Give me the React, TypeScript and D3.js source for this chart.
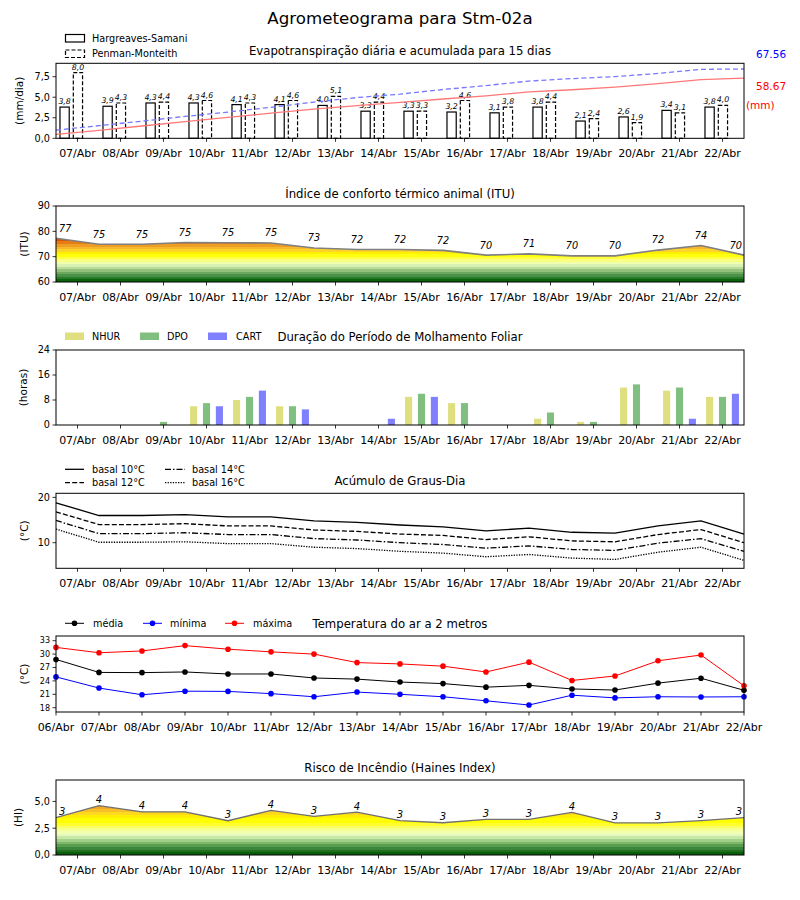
import React from "react";
import * as d3 from "d3";

// ---------- DATA ----------
const daysAxis = ["07/Abr","08/Abr","09/Abr","10/Abr","11/Abr","12/Abr","13/Abr","14/Abr","15/Abr","16/Abr","17/Abr","18/Abr","19/Abr","20/Abr","21/Abr","22/Abr"];
const daysTemp = ["06/Abr","07/Abr","08/Abr","09/Abr","10/Abr","11/Abr","12/Abr","13/Abr","14/Abr","15/Abr","16/Abr","17/Abr","18/Abr","19/Abr","20/Abr","21/Abr","22/Abr"];

const etHS = [3.8,3.9,4.3,4.3,4.1,4.1,4.0,3.3,3.3,3.2,3.1,3.8,2.1,2.6,3.4,3.8];
const etPM = [8.0,4.3,4.4,4.6,4.3,4.6,5.1,4.4,3.3,4.6,3.8,4.4,2.4,1.9,3.1,4.0];
const etTotalHS = 58.67;
const etTotalPM = 67.56;

const itu = [77.3,74.9,74.9,75.6,75.5,75.4,73.4,72.8,72.8,72.5,70.6,71.1,70.3,70.3,72.6,74.4,70.6];
const ituLabels = [77,75,75,75,75,75,73,72,72,72,70,71,70,70,72,74,70];

const nhur = [0,0,0,6,8,6,0,0,9,7,0,2,1,12,11,9];
const dpo  = [0,0,1,7,9,6,0,0,10,7,0,4,1,13,12,9];
const cart = [0,0,0,6,11,5,0,2,9,0,0,0,0,0,2,10];

const gd10 = [18.8,16.0,16.0,16.2,15.7,15.7,14.8,14.5,13.9,13.5,12.6,13.2,12.3,12.1,13.7,14.8,11.9];
const gd12 = [16.8,14.0,14.0,14.2,13.7,13.7,12.8,12.5,11.9,11.6,10.7,11.3,10.4,10.2,11.8,12.9,10.0];
const gd14 = [14.9,12.0,12.0,12.2,11.8,11.8,10.9,10.6,10.0,9.6,8.8,9.3,8.5,8.3,9.9,10.9,8.1];
const gd16 = [13.0,10.1,10.1,10.2,9.8,9.8,9.0,8.7,8.1,7.7,6.9,7.4,6.6,6.3,7.9,9.0,6.1];

const tMax = [31.5,30.3,30.7,31.9,31.1,30.5,30.0,28.1,27.8,27.3,26.0,28.2,24.1,25.1,28.5,29.8,22.9];
const tMed = [28.8,25.9,25.85,26.0,25.55,25.55,24.65,24.4,23.75,23.4,22.6,23.0,22.2,21.95,23.5,24.6,21.9];
const tMin = [24.9,22.4,20.9,21.7,21.65,21.15,20.45,21.5,21.0,20.45,19.55,18.6,20.8,20.2,20.45,20.4,20.45];

const haines = [3.48,4.6,4.03,4.03,3.2,4.16,3.6,4.0,3.2,3.01,3.33,3.33,3.98,3.0,3.0,3.2,3.48];
const hainesLabels = [3,4,4,4,3,4,3,4,3,3,3,3,4,3,3,3,3];

const etTicks = [0, 2.5, 5, 7.5];
const ituTicks = [60, 70, 80, 90];
const wetTicks = [0, 8, 16, 24];
const gdTicks = [10, 20];
const tempTicks = [18, 21, 24, 27, 30, 33];
const hiTicks = [0, 2.5, 5];

const ituBands: [number, number, string][] = [
  [60,61,"#0b630b"],[61,62,"#277a27"],[62,63,"#4a914a"],[63,64,"#6ea85e"],[64,65,"#94c27c"],
  [65,66,"#b9dc9a"],[66,67,"#d9f2b2"],[67,68,"#eeffb0"],[68,69,"#faff80"],[69,70,"#ffff40"],
  [70,71,"#ffff10"],[71,72,"#fff000"],[72,73,"#ffd428"],[73,74,"#f7b830"],[74,75,"#ef9e24"],
  [75,76,"#e67d14"],[76,77,"#d95200"],[77,90,"#cc0000"],
];
const hiBands: [number, number, string][] = [
  [0,0.25,"#0a5e0a"],[0.25,0.5,"#1f701f"],[0.5,0.75,"#3a863a"],[0.75,1,"#5a9c50"],[1,1.25,"#7db868"],
  [1.25,1.5,"#a2d088"],[1.5,1.75,"#c8e8a8"],[1.75,2,"#e4f8c0"],[2,2.25,"#f0ffb0"],[2.25,2.5,"#f6ff90"],
  [2.5,2.75,"#faff60"],[2.75,3,"#ffff30"],[3,3.5,"#ffff00"],[3.5,3.75,"#fff000"],[3.75,4,"#ffd820"],
  [4,4.25,"#f8c028"],[4.25,4.5,"#f0a828"],[4.5,5,"#e89018"],[5,7,"#e07010"],
];

// ---------- LAYOUT ----------
const L = 56, R = 744;
const FONT = "DejaVu Sans, Liberation Sans, sans-serif";
const x = d3.scaleLinear().domain([0, 16]).range([L, R]);

const P1 = { top: 63.3, bottom: 138.3 };
const P2 = { top: 206, bottom: 282 };
const P3 = { top: 350, bottom: 425 };
const P4 = { top: 493.3, bottom: 568.3 };
const P5 = { top: 636, bottom: 712 };
const P6 = { top: 780, bottom: 855 };

const y1 = d3.scaleLinear().domain([0, 9.13]).range([P1.bottom, P1.top]);
const y1b = d3.scaleLinear().domain([0, 73.1]).range([P1.bottom, P1.top]);
const y2 = d3.scaleLinear().domain([60, 90]).range([P2.bottom, P2.top]);
const y3 = d3.scaleLinear().domain([0, 24]).range([P3.bottom, P3.top]);
const y4 = d3.scaleLinear().domain([4.35, 20.9]).range([P4.bottom, P4.top]);
const y5 = d3.scaleLinear().domain([17.04, 34.05]).range([P5.bottom, P5.top]);
const y6 = d3.scaleLinear().domain([0, 7]).range([P6.bottom, P6.top]);

const fmtComma = (v: number) => v.toFixed(1).replace(".", ",");

function Frame({ p }: { p: { top: number; bottom: number } }) {
  return <rect x={L} y={p.top} width={R - L} height={p.bottom - p.top} fill="none" stroke="#000" strokeWidth={1} />;
}

function XAxis({ p, pos, labels }: { p: { top: number; bottom: number }; pos: number[]; labels: string[] }) {
  return (
    <g>
      {pos.map((px, i) => (
        <g key={i}>
          <line x1={px} x2={px} y1={p.bottom} y2={p.bottom + 3.5} stroke="#000" strokeWidth={0.8} />
          <text x={px} y={p.bottom + 19} textAnchor="middle" fontSize={11} fontFamily={FONT}>{labels[i]}</text>
        </g>
      ))}
    </g>
  );
}

function YAxis({ scale, ticks, fmt, size = 9.7, label, labelX }: { scale: d3.ScaleLinear<number, number>; ticks: number[]; fmt: (v: number) => string; size?: number; label: string; labelX: number }) {
  const [r0, r1] = scale.range();
  return (
    <g>
      {ticks.map((t, i) => (
        <g key={i}>
          <line x1={L - 3.5} x2={L} y1={scale(t)} y2={scale(t)} stroke="#000" strokeWidth={0.8} />
          <text x={L - 6} y={scale(t)} dy="0.35em" textAnchor="end" fontSize={size} fontFamily={FONT}>{fmt(t)}</text>
        </g>
      ))}
      <text transform={`translate(${labelX},${(r0 + r1) / 2}) rotate(-90)`} textAnchor="middle" dy="0.35em" fontSize={10.5} fontFamily={FONT}>{label}</text>
    </g>
  );
}

function Title({ y, text }: { y: number; text: string }) {
  return <text x={400} y={y} textAnchor="middle" fontSize={11.7} fontFamily={FONT}>{text}</text>;
}

function BandGradient({ id, bands, scale }: { id: string; bands: [number, number, string][]; scale: d3.ScaleLinear<number, number> }) {
  const [lo, hi] = scale.domain();
  const off = (v: number) => `${(((v - lo) / (hi - lo)) * 100).toFixed(3)}%`;
  return (
    <linearGradient id={id} gradientUnits="userSpaceOnUse" x1={0} x2={0} y1={scale(lo)} y2={scale(hi)}>
      {bands.flatMap(([a, b, c], i) => [
        <stop key={i + "a"} offset={off(a)} stopColor={c} />,
        <stop key={i + "b"} offset={off(b)} stopColor={c} />,
      ])}
    </linearGradient>
  );
}

export default function App() {
  const idx16 = d3.range(16);
  const idx17 = d3.range(17);
  const tickPos16 = idx16.map((i) => x(i + 0.5));
  const tickPos17 = idx17.map((i) => x(i));

  // cumulative evapotranspiration
  const cumHS = [...Array.from(d3.cumsum(etHS)), etTotalHS];
  const cumPM = [...Array.from(d3.cumsum(etPM)), etTotalPM];
  const lineCum = d3.line<number>().x((_, i) => x(i)).y((d) => y1b(d));

  const bw = 0.215;

  const ituLine = d3.line<number>().x((_, i) => x(i)).y((d) => y2(d));
  const ituArea = d3.area<number>().x((_, i) => x(i)).y0(y2(60)).y1((d) => y2(d));
  const hiLine = d3.line<number>().x((_, i) => x(i)).y((d) => y6(d));
  const hiArea = d3.area<number>().x((_, i) => x(i)).y0(y6(0)).y1((d) => y6(d));

  const gdLine = d3.line<number>().x((_, i) => x(i)).y((d) => y4(d));
  const tLine = d3.line<number>().x((_, i) => x(i)).y((d) => y5(d));

  const wetSeries = [
    { data: nhur, color: "#dfdf80", off: -0.3 },
    { data: dpo, color: "#80bf80", off: 0 },
    { data: cart, color: "#8080ff", off: 0.3 },
  ];
  const wbw = 0.165;

  const gdSeries = [
    { data: gd10, dash: "", name: "basal 10°C" },
    { data: gd12, dash: "5,2.2", name: "basal 12°C" },
    { data: gd14, dash: "6,2,1.5,2", name: "basal 14°C" },
    { data: gd16, dash: "1.3,1.3", name: "basal 16°C" },
  ];
  const tSeries = [
    { data: tMed, color: "#000000", name: "média", lx: 65, tx: 93 },
    { data: tMin, color: "#0000ff", name: "mínima", lx: 143, tx: 170 },
    { data: tMax, color: "#ff0000", name: "máxima", lx: 225, tx: 253 },
  ];

  const labelAnchor = (i: number, n: number) => (i === 0 ? "start" : i === n - 1 ? "end" : "middle");
  const labelX = (i: number, n: number) => (i === 0 ? x(i) + 3 : i === n - 1 ? x(i) - 2 : x(i));

  return (
    <svg width={800} height={900} style={{ position: "absolute", left: 0, top: 0, background: "#fff" }} fontFamily={FONT}>
      <defs>
        <BandGradient id="ituGrad" bands={ituBands} scale={y2} />
        <BandGradient id="hiGrad" bands={hiBands} scale={y6} />
      </defs>
      <rect x={0} y={0} width={800} height={900} fill="#fff" />
      <text x={400} y={24} textAnchor="middle" fontSize={16.67} fontFamily={FONT}>Agrometeograma para Stm-02a</text>

      {/* ---------- Panel 1 ---------- */}
      <Title y={55} text="Evapotranspiração diária e acumulada para 15 dias" />
      <rect x={65.5} y={34.5} width={19} height={7.5} fill="none" stroke="#000" strokeWidth={1.2} />
      <rect x={65.5} y={50} width={19} height={7.5} fill="none" stroke="#000" strokeWidth={1.2} strokeDasharray="4,2" />
      <text x={92} y={38.5} dy="0.35em" fontSize={9.7}>Hargreaves-Samani</text>
      <text x={92} y={53.8} dy="0.35em" fontSize={9.7}>Penman-Monteith</text>
      {idx16.map((i) => (
        <g key={i}>
          <rect x={x(i + 0.2 - bw / 2)} y={y1(etHS[i])} width={x(bw) - x(0)} height={y1(0) - y1(etHS[i])} fill="none" stroke="#000" strokeWidth={1.2} />
          <rect x={x(i + 0.51 - bw / 2)} y={y1(etPM[i])} width={x(bw) - x(0)} height={y1(0) - y1(etPM[i])} fill="none" stroke="#000" strokeWidth={1.2} strokeDasharray="4,2" />
          <text x={x(i + 0.2)} y={y1(etHS[i]) - 3} textAnchor="middle" fontSize={7.8} fontStyle="italic">{fmtComma(etHS[i])}</text>
          <text x={x(i + 0.51)} y={y1(etPM[i]) - 3} textAnchor="middle" fontSize={7.8} fontStyle="italic">{fmtComma(etPM[i])}</text>
        </g>
      ))}
      <path d={lineCum(cumHS) || ""} fill="none" stroke="#ff7878" strokeWidth={1.3} />
      <path d={lineCum(cumPM) || ""} fill="none" stroke="#7878ff" strokeWidth={1.3} strokeDasharray="5,3" />
      <Frame p={P1} />
      <XAxis p={P1} pos={tickPos16} labels={daysAxis} />
      <YAxis scale={y1} ticks={etTicks} fmt={fmtComma} label="(mm/dia)" labelX={19} />
      <text x={756} y={54.5} dy="0.35em" fontSize={10.5} fill="#0000ff">{etTotalPM.toFixed(2)}</text>
      <text x={756} y={86.5} dy="0.35em" fontSize={10.5} fill="#ff0000">{etTotalHS.toFixed(2)}</text>
      <text x={746} y={105} dy="0.35em" fontSize={10.5} fill="#ff0000">(mm)</text>

      {/* ---------- Panel 2 ---------- */}
      <Title y={198} text="Índice de conforto térmico animal (ITU)" />
      <path d={ituArea(itu) || ""} fill="url(#ituGrad)" />
      <path d={ituLine(itu) || ""} fill="none" stroke="#808080" strokeWidth={1.6} />
      {idx17.map((i) => (
        <text key={i} x={labelX(i, 17)} y={y2(itu[i]) - 10} dy="0.35em" textAnchor={labelAnchor(i, 17)} fontSize={9.7} fontStyle="italic">{ituLabels[i]}</text>
      ))}
      <Frame p={P2} />
      <XAxis p={P2} pos={tickPos16} labels={daysAxis} />
      <YAxis scale={y2} ticks={ituTicks} fmt={(v) => String(v)} label="(ITU)" labelX={24} />

      {/* ---------- Panel 3 ---------- */}
      <Title y={341} text="Duração do Período de Molhamento Foliar" />
      {wetSeries.map((s, k) => (
        <g key={k}>
          <rect x={[65, 140, 208][k]} y={332.5} width={19} height={7.5} fill={s.color} />
          <text x={[92, 167, 236][k]} y={336.5} dy="0.35em" fontSize={9.7}>{["NHUR", "DPO", "CART"][k]}</text>
          {idx16.map((i) =>
            s.data[i] > 0 ? (
              <rect key={i} x={x(i + 0.5 + s.off - wbw / 2)} y={y3(s.data[i])} width={x(wbw) - x(0)} height={y3(0) - y3(s.data[i])} fill={s.color} />
            ) : null
          )}
        </g>
      ))}
      <Frame p={P3} />
      <XAxis p={P3} pos={tickPos16} labels={daysAxis} />
      <YAxis scale={y3} ticks={wetTicks} fmt={(v) => String(v)} label="(horas)" labelX={23} />

      {/* ---------- Panel 4 ---------- */}
      <Title y={485} text="Acúmulo de Graus-Dia" />
      {gdSeries.map((s, k) => (
        <g key={k}>
          <line x1={[65, 65, 165, 165][k]} x2={[84, 84, 185, 185][k]} y1={[469.3, 482.7, 469.3, 482.7][k]} y2={[469.3, 482.7, 469.3, 482.7][k]} stroke="#000" strokeWidth={1.3} strokeDasharray={s.dash || undefined} />
          <text x={[92, 92, 192, 192][k]} y={[469.3, 482.7, 469.3, 482.7][k]} dy="0.35em" fontSize={9.7}>{s.name}</text>
          <path d={gdLine(s.data) || ""} fill="none" stroke="#000" strokeWidth={1.3} strokeDasharray={s.dash || undefined} />
        </g>
      ))}
      <Frame p={P4} />
      <XAxis p={P4} pos={tickPos16} labels={daysAxis} />
      <YAxis scale={y4} ticks={gdTicks} fmt={(v) => String(v)} label="(°C)" labelX={24} />

      {/* ---------- Panel 5 ---------- */}
      <Title y={627.5} text="Temperatura do ar a 2 metros" />
      {tSeries.map((s, k) => (
        <g key={k}>
          <line x1={s.lx} x2={s.lx + 19} y1={623.3} y2={623.3} stroke={s.color} strokeWidth={1} />
          <circle cx={s.lx + 9.5} cy={623.3} r={2.8} fill={s.color} />
          <text x={s.tx} y={623.3} dy="0.35em" fontSize={9.7}>{s.name}</text>
          <path d={tLine(s.data) || ""} fill="none" stroke={s.color} strokeWidth={1} />
          {idx17.map((i) => (
            <circle key={i} cx={x(i)} cy={y5(s.data[i])} r={2.8} fill={s.color} />
          ))}
        </g>
      ))}
      <Frame p={P5} />
      <XAxis p={P5} pos={tickPos17} labels={daysTemp} />
      <YAxis scale={y5} ticks={tempTicks} fmt={(v) => String(v)} size={8} label="(°C)" labelX={24} />

      {/* ---------- Panel 6 ---------- */}
      <Title y={771.5} text="Risco de Incêndio (Haines Index)" />
      <path d={hiArea(haines) || ""} fill="url(#hiGrad)" />
      <path d={hiLine(haines) || ""} fill="none" stroke="#707070" strokeWidth={1.3} />
      {idx17.map((i) => (
        <text key={i} x={labelX(i, 17)} y={y6(haines[i]) - 6} dy="0.35em" textAnchor={labelAnchor(i, 17)} fontSize={10} fontStyle="italic">{hainesLabels[i]}</text>
      ))}
      <Frame p={P6} />
      <XAxis p={P6} pos={tickPos16} labels={daysAxis} />
      <YAxis scale={y6} ticks={hiTicks} fmt={fmtComma} label="(HI)" labelX={18} />
    </svg>
  );
}
